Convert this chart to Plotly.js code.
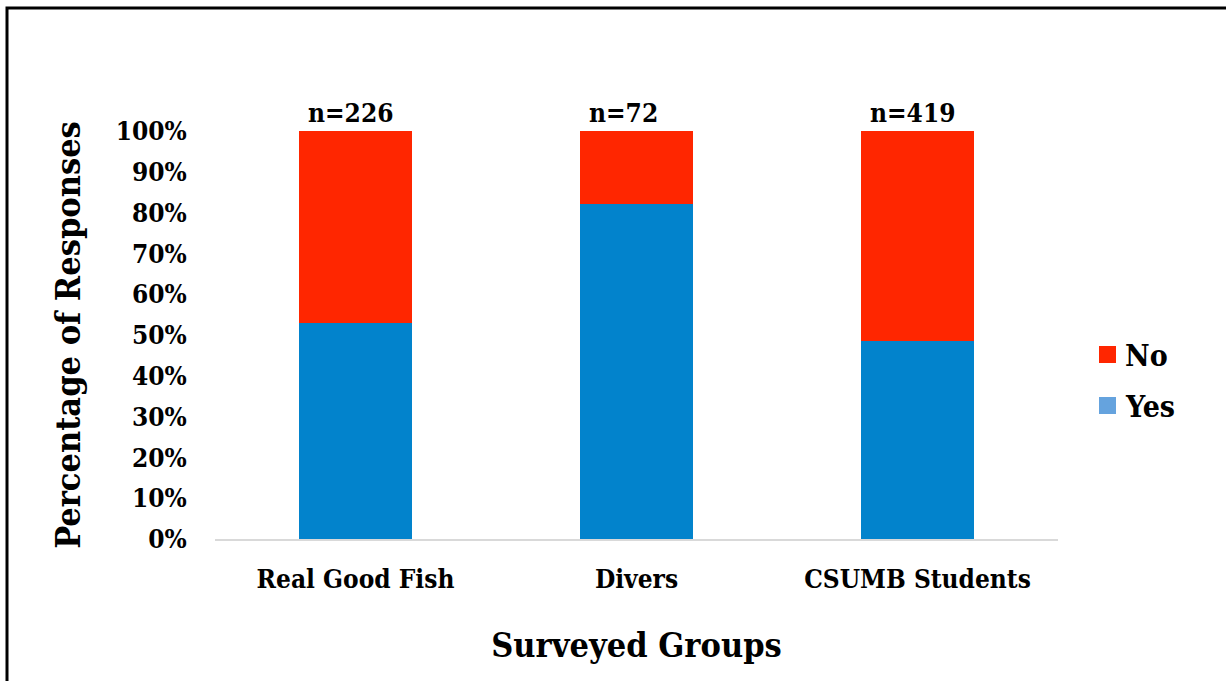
<!DOCTYPE html>
<html>
<head>
<meta charset="utf-8">
<script src="https://cdn.plot.ly/plotly-3.0.1.min.js"></script>
<style>
  html, body { margin: 0; padding: 0; background: #ffffff; }
  #chart { width: 1226px; height: 681px; }
</style>
</head>
<body>
<div id="chart"></div>
<script>
// Survey groups and share of answers (percent)
const groups = ['Real Good Fish', 'Divers', 'CSUMB Students'];
const sampleSizes = [226, 72, 419];
const yesPct = [52.9, 82.2, 48.5];
const noPct = [47.1, 17.8, 51.5];
const yTicks = [0, 10, 20, 30, 40, 50, 60, 70, 80, 90, 100];

const FONT = '"DejaVu Serif Condensed", "DejaVu Serif", "Liberation Serif", serif';
const W = 1226, H = 681;
const M = { l: 215, r: 168, t: 131, b: 142 };
const plotW = W - M.l - M.r, plotH = H - M.t - M.b;
const px = x => (x - M.l) / plotW;
const py = y => (H - M.b - y) / plotH;

const traces = [
  {
    type: 'bar', name: 'Yes', x: groups, y: yesPct,
    marker: { color: '#0283CC' }, showlegend: false, hoverinfo: 'x+y'
  },
  {
    type: 'bar', name: 'No', x: groups, y: noPct,
    marker: { color: '#FF2600' }, showlegend: false, hoverinfo: 'x+y'
  }
];

// "n=" labels above each stacked column, aligned near the column's left edge
const annotations = groups.map((g, i) => ({
  x: g, y: yesPct[i] + noPct[i], xref: 'x', yref: 'y',
  text: 'n=' + sampleSizes[i], showarrow: false,
  xanchor: 'left', xshift: -50,
  yanchor: 'bottom', yshift: 1,
  font: { family: FONT, size: 26, color: '#000000', weight: 'bold' }
}));

// Legend drawn as swatches with labels
const legendItems = [
  { label: 'No', color: '#FF2600', top: 346 },
  { label: 'Yes', color: '#65A3DE', top: 397 }
];
const shapes = [];
legendItems.forEach(it => {
  shapes.push({
    type: 'rect', xref: 'paper', yref: 'paper',
    x0: px(1099), x1: px(1116), y0: py(it.top), y1: py(it.top + 17),
    fillcolor: it.color, line: { width: 0 }
  });
  annotations.push({
    xref: 'paper', yref: 'paper', x: px(1123), y: py(it.top + 9),
    xanchor: 'left', yanchor: 'middle', text: it.label, showarrow: false,
    font: { family: FONT, size: 30, color: '#000000', weight: 'bold' }
  });
});

// Outer frame
shapes.push({
  type: 'rect', xref: 'paper', yref: 'paper',
  x0: px(7), y1: py(8), x1: px(1240), y0: py(700),
  line: { color: '#000000', width: 3 }, fillcolor: 'rgba(0,0,0,0)', layer: 'above'
});

const layout = {
  width: W, height: H,
  margin: M,
  paper_bgcolor: '#ffffff', plot_bgcolor: '#ffffff',
  barmode: 'stack', bargap: 0.6,
  showlegend: false,
  font: { family: FONT, color: '#000000' },
  xaxis: {
    showline: true, linecolor: '#D9D9D9', linewidth: 2,
    showgrid: false, zeroline: false,
    ticks: 'outside', ticklen: 16, tickcolor: 'rgba(0,0,0,0)',
    tickfont: { family: FONT, size: 26, color: '#000000', weight: 'bold' },
    title: { text: 'Surveyed Groups', standoff: 40,
      font: { family: FONT, size: 34, color: '#000000', weight: 'bold' } },
    automargin: false
  },
  yaxis: {
    range: [0, 100], tickvals: yTicks, ticktext: yTicks.map(v => v + '%'),
    showline: false, showgrid: false, zeroline: false,
    ticks: 'outside', ticklen: 22, tickcolor: 'rgba(0,0,0,0)',
    tickfont: { family: FONT, size: 26, color: '#000000', weight: 'bold' },
    title: { text: 'Percentage of Responses', standoff: 24,
      font: { family: FONT, size: 34, color: '#000000', weight: 'bold' } },
    automargin: false
  },
  shapes: shapes,
  annotations: annotations
};

Plotly.newPlot('chart', traces, layout, { displayModeBar: false, staticPlot: true });
</script>
</body>
</html>
